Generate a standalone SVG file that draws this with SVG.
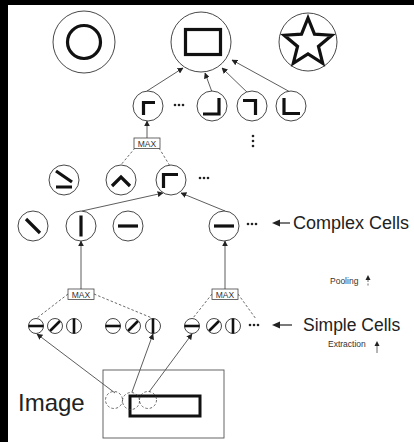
<svg xmlns="http://www.w3.org/2000/svg" width="414" height="442" viewBox="0 0 414 442">
<style>
.cell{fill:#fff;stroke:#333;stroke-width:0.9}
.g{fill:none;stroke:#111;stroke-width:3.2;stroke-linecap:butt}
.gs{fill:none;stroke:#111;stroke-width:2.6}
.arr{fill:none;stroke:#333;stroke-width:0.8;marker-end:url(#ah)}
.dash{fill:none;stroke:#444;stroke-width:0.8;stroke-dasharray:2.5,2}
.maxbox{fill:#fff;stroke:#444;stroke-width:0.8}
.maxt{font-family:"Liberation Sans",Arial,sans-serif;font-size:8.5px;fill:#333;text-anchor:middle}
.lbl{font-family:"Liberation Sans",Arial,sans-serif;fill:#222}
.sm{font-family:"Liberation Sans",Arial,sans-serif;fill:#333;font-size:8.5px}
.dots{fill:#222}
</style>
<defs>
<marker id="ah" viewBox="0 0 10 10" refX="9" refY="5" markerWidth="6" markerHeight="6" markerUnits="userSpaceOnUse" orient="auto">
<path d="M0,0 L10,5 L0,10 z" fill="#222"/>
</marker>
<g id="dots3"><circle cx="-4" cy="0" r="1.3"/><circle cx="0" cy="0" r="1.3"/><circle cx="4" cy="0" r="1.3"/></g>
</defs>
<rect x="0" y="0" width="414" height="442" fill="#fff"/>
<rect x="0" y="0" width="414" height="5" fill="#000"/>
<rect x="0" y="0" width="8" height="442" fill="#000"/>

<g id="connectors">
<line class="arr" x1="147" y1="91" x2="183" y2="68"/>
<line class="arr" x1="212" y1="92" x2="205" y2="73"/>
<line class="arr" x1="250" y1="95" x2="222" y2="68"/>
<line class="arr" x1="292" y1="93" x2="232" y2="60"/>
<line class="arr" x1="147" y1="138" x2="147" y2="121"/>
<line class="dash" x1="135" y1="148" x2="120" y2="166"/>
<line class="dash" x1="159" y1="148" x2="170" y2="166"/>
<line class="arr" x1="82" y1="211" x2="163" y2="193"/>
<line class="arr" x1="225" y1="211" x2="181" y2="193"/>
<line class="arr" x1="81" y1="289" x2="81" y2="241"/>
<line class="arr" x1="225" y1="289" x2="225" y2="241"/>
<line class="dash" x1="68" y1="294" x2="37" y2="318"/>
<line class="dash" x1="94" y1="294" x2="152" y2="318"/>
<line class="dash" x1="212" y1="294" x2="193" y2="318"/>
<line class="dash" x1="238" y1="294" x2="256" y2="319"/>
<line class="arr" x1="115" y1="393" x2="37" y2="334"/>
<line class="arr" x1="132" y1="392" x2="153" y2="334"/>
<line class="arr" x1="149" y1="392" x2="192" y2="334"/>
</g>

<g id="top-circle"><circle class="cell" cx="84" cy="42" r="31"/><circle class="g" cx="84" cy="42" r="16.5" stroke-width="3.5"/></g>
<g id="top-rect"><circle class="cell" cx="201" cy="42" r="30"/><rect class="g" x="185.5" y="29.5" width="35" height="25" stroke-width="3.5"/></g>
<g id="top-star"><circle class="cell" cx="308" cy="42" r="29"/><polygon class="g" points="308,18 314.47,34.10 331.78,35.27 318.46,46.40 322.69,63.23 308,54 293.31,63.23 297.54,46.40 284.22,35.27 301.53,34.10" stroke-linejoin="miter"/></g>

<g id="l2-c1"><circle class="cell" cx="148" cy="106" r="15"/><path class="g" d="M143.5,115 V102.5 H155"/></g>
<g id="l2-c2"><circle class="cell" cx="212" cy="106" r="15"/><path class="g" d="M203,114 H219 V98"/></g>
<g id="l2-c3"><circle class="cell" cx="252" cy="106" r="15"/><path class="g" d="M243,100.5 H255.5 V115"/></g>
<g id="l2-c4"><circle class="cell" cx="291" cy="106" r="15"/><path class="g" d="M284,98 V113.5 H300"/></g>
<g id="l2-dots" class="dots"><use href="#dots3" x="179" y="105"/></g>
<g id="vdots" class="dots"><circle cx="253" cy="136" r="1.3"/><circle cx="253" cy="141" r="1.3"/><circle cx="253" cy="146" r="1.3"/></g>
<g id="max-top"><rect class="maxbox" x="134" y="138" width="26" height="10.5"/><text class="maxt" x="147" y="146.5">MAX</text></g>

<g id="l3-c1"><circle class="cell" cx="64" cy="180" r="15"/><path class="g" d="M56,171 L72,182 M56,187 H72"/></g>
<g id="l3-c2"><circle class="cell" cx="121" cy="180" r="15"/><path class="g" d="M112,186 L121,177 L130,186"/></g>
<g id="l3-c3"><circle class="cell" cx="171" cy="180" r="15"/><path class="g" d="M163.5,188 V174.5 H178"/></g>
<g id="l3-dots" class="dots"><use href="#dots3" x="204" y="178"/></g>

<g id="cx-c1"><circle class="cell" cx="33" cy="226" r="15"/><line class="g" x1="26" y1="219" x2="40" y2="233"/></g>
<g id="cx-c2"><circle class="cell" cx="81" cy="226" r="15"/><line class="g" x1="81" y1="215.5" x2="81" y2="236.5"/></g>
<g id="cx-c3"><circle class="cell" cx="128" cy="226" r="15"/><line class="g" x1="118" y1="226" x2="138" y2="226"/></g>
<g id="cx-c4"><circle class="cell" cx="224" cy="226" r="15"/><line class="g" x1="214" y1="226" x2="234" y2="226"/></g>
<g id="cx-dots" class="dots"><use href="#dots3" x="252" y="224"/></g>
<g id="complex-label">
<line x1="290" y1="223" x2="276" y2="223" stroke="#222" stroke-width="1.2"/>
<path d="M272,223 L280,219.5 L280,226.5 z" fill="#222"/>
<text class="lbl" x="293" y="229" font-size="18">Complex Cells</text>
<text class="sm" x="330" y="284">Pooling</text>
<path d="M368,275 L365.5,280 L370.5,280 z" fill="#222"/>
<line x1="368" y1="280" x2="368" y2="287" stroke="#444" stroke-width="0.8" stroke-dasharray="2,1.5"/>
</g>

<g id="max-1"><rect class="maxbox" x="68" y="289" width="26" height="10.5"/><text class="maxt" x="81" y="297.5">MAX</text></g>
<g id="max-2"><rect class="maxbox" x="212" y="289" width="26" height="10.5"/><text class="maxt" x="225" y="297.5">MAX</text></g>

<g id="s-1-h"><circle class="cell" cx="36" cy="326" r="7.5"/><line class="gs" x1="28.5" y1="326" x2="43.5" y2="326"/></g>
<g id="s-1-d"><circle class="cell" cx="55" cy="326" r="7.5"/><line class="gs" x1="50" y1="331" x2="60" y2="321"/></g>
<g id="s-1-v"><circle class="cell" cx="74" cy="326" r="7.5"/><line class="gs" x1="74" y1="318.5" x2="74" y2="333.5"/></g>
<g id="s-2-h"><circle class="cell" cx="113" cy="326" r="7.5"/><line class="gs" x1="105.5" y1="326" x2="120.5" y2="326"/></g>
<g id="s-2-d"><circle class="cell" cx="133" cy="326" r="7.5"/><line class="gs" x1="128" y1="331" x2="138" y2="321"/></g>
<g id="s-2-v"><circle class="cell" cx="153" cy="326" r="7.5"/><line class="gs" x1="153" y1="318.5" x2="153" y2="333.5"/></g>
<g id="s-3-h"><circle class="cell" cx="192" cy="326" r="7.5"/><line class="gs" x1="184.5" y1="326" x2="199.5" y2="326"/></g>
<g id="s-3-d"><circle class="cell" cx="214" cy="326" r="7.5"/><line class="gs" x1="209" y1="331" x2="219" y2="321"/></g>
<g id="s-3-v"><circle class="cell" cx="233" cy="326" r="7.5"/><line class="gs" x1="233" y1="318.5" x2="233" y2="333.5"/></g>
<g id="s-dots" class="dots"><use href="#dots3" x="254" y="325"/></g>
<g id="simple-label">
<line x1="292" y1="325" x2="276" y2="325" stroke="#222" stroke-width="1.2"/>
<path d="M272,325 L280,321.5 L280,328.5 z" fill="#222"/>
<text class="lbl" x="303" y="331" font-size="17.5">Simple Cells</text>
<text class="sm" x="328" y="347">Extraction</text>
<path d="M377,341 L374.5,346 L379.5,346 z" fill="#222"/>
<line x1="377" y1="346" x2="377" y2="353" stroke="#444" stroke-width="0.8"/>
</g>

<g id="image">
<rect x="103" y="370" width="121" height="68" fill="none" stroke="#555" stroke-width="0.9"/>
<rect x="130" y="396" width="70" height="20" fill="none" stroke="#111" stroke-width="3"/>
<circle class="dash" cx="114" cy="400" r="8.5"/>
<circle class="dash" cx="131" cy="401" r="8.5"/>
<circle class="dash" cx="148" cy="400" r="8.5"/>
<text class="lbl" x="18" y="411" font-size="24">Image</text>
</g>
</svg>
